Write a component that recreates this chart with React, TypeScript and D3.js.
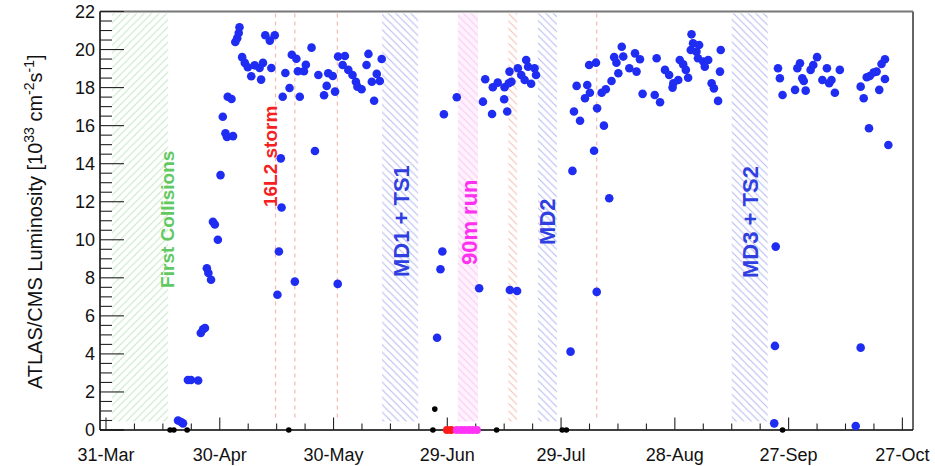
import React from "react";
import * as d3 from "d3";

// ---------- data (days since 31-Mar, peak luminosity in 1e33 cm^-2 s^-1) ----------
const xTickLabels = ["31-Mar", "30-Apr", "30-May", "29-Jun", "29-Jul", "28-Aug", "27-Sep", "27-Oct"];
const xTickDays = [0, 30, 60, 90, 120, 150, 180, 210];
const yTickValues = [0, 2, 4, 6, 8, 10, 12, 14, 16, 18, 20, 22];

const physicsFills: [number, number][] = [
  [19.0, 0.5], [19.8, 0.42], [20.3, 0.35], [21.6, 2.63], [22.4, 2.63], [24.3, 2.6], [25.0, 5.1], [25.6, 5.3],
  [26.1, 5.36], [26.6, 8.5], [27.0, 8.25], [27.7, 7.9], [28.2, 10.95], [28.7, 10.8], [29.5, 10.0], [30.2, 13.4],
  [30.8, 16.47], [31.5, 15.6], [31.9, 15.4], [32.1, 17.52], [33.1, 17.4], [33.5, 15.45], [34.1, 20.4], [34.6, 20.6],
  [35.0, 20.87], [35.2, 21.17], [35.9, 19.6], [36.6, 19.3], [37.4, 19.07], [38.3, 18.6], [39.2, 19.17], [40.5, 19.03],
  [40.9, 18.42], [41.4, 19.3], [42.0, 20.75], [43.2, 20.47], [43.6, 19.03], [44.5, 20.75],
  [45.2, 7.11], [45.6, 9.38], [46.1, 14.28], [46.3, 11.7], [46.6, 17.52], [47.3, 18.77], [48.4, 17.98], [49.0, 19.73],
  [49.8, 7.8], [50.2, 19.52], [50.6, 18.86], [51.1, 17.52], [52.2, 18.86], [52.7, 19.2], [54.2, 20.1], [55.1, 14.67],
  [56.0, 18.66], [57.5, 17.6], [58.2, 18.09], [58.6, 18.75], [59.8, 18.61], [60.4, 17.79], [61.1, 7.68], [61.2, 19.63],
  [62.4, 19.19], [63.0, 19.66], [63.9, 18.93], [65.0, 18.66], [65.9, 18.31], [66.3, 18.05], [67.4, 17.91], [68.7, 19.19],
  [69.2, 19.77], [70.1, 18.31], [70.7, 17.31], [71.4, 18.72], [72.2, 18.35], [72.7, 19.5],
  [87.3, 4.85], [88.2, 8.45], [88.7, 9.38], [89.1, 16.6], [92.5, 17.49], [98.4, 7.45], [99.4, 17.26], [100.0, 18.44],
  [101.8, 16.61], [102.0, 18.02], [103.3, 18.26], [105.0, 17.39], [105.1, 18.02], [105.8, 16.74], [106.2, 18.23],
  [106.4, 18.84], [106.5, 7.36], [106.9, 18.31], [108.4, 7.31], [108.6, 19.02], [109.5, 18.66], [110.4, 18.4],
  [110.8, 19.45], [111.3, 19.1], [112.1, 18.2], [113.0, 19.02], [113.4, 18.66],
  [122.5, 4.12], [123.0, 13.62], [123.4, 16.74], [124.1, 18.09], [125.0, 16.26], [126.3, 17.44], [126.9, 18.14],
  [127.4, 19.19], [127.6, 17.73], [128.7, 14.68], [129.2, 19.31], [129.4, 7.26], [129.5, 16.91], [130.7, 17.73],
  [131.3, 16.0], [131.8, 17.91], [132.7, 12.18], [133.3, 18.35], [134.0, 19.6], [134.6, 19.31], [135.1, 18.75],
  [136.0, 20.15], [136.4, 19.63], [138.0, 19.02], [139.5, 19.8], [139.9, 18.84], [140.8, 19.49], [141.5, 17.67],
  [144.7, 17.61], [145.2, 19.54], [146.1, 17.23], [147.4, 18.93], [148.5, 18.66], [149.4, 18.0], [149.6, 18.23],
  [150.9, 18.4], [151.3, 19.45], [152.2, 19.22], [152.9, 18.93], [153.5, 18.52], [154.2, 19.98], [154.4, 20.8],
  [154.8, 20.33], [155.7, 19.89], [156.1, 19.54], [156.4, 20.24], [157.5, 19.37], [157.9, 19.1], [158.8, 19.45],
  [159.7, 18.23], [160.3, 17.96], [161.4, 17.3], [161.9, 18.84], [162.1, 19.98],
  [176.2, 0.35], [176.4, 4.42], [176.6, 9.64], [177.2, 19.02], [177.7, 18.49], [178.4, 17.61], [181.7, 17.88],
  [182.3, 19.02], [183.0, 19.28], [183.6, 18.49], [184.0, 18.35], [184.5, 17.84], [185.8, 18.93], [186.5, 19.19],
  [187.5, 19.6], [188.9, 18.4], [190.1, 19.02], [190.7, 18.23], [191.3, 18.4], [192.2, 17.73], [193.5, 18.93],
  [197.7, 0.21], [199.0, 4.33], [199.0, 18.05], [199.8, 17.44], [200.6, 18.54], [201.2, 15.86], [201.4, 18.61],
  [202.4, 18.79], [203.2, 18.84], [203.9, 17.88], [204.5, 19.24], [205.4, 19.49], [205.4, 18.45], [206.3, 14.98],
];

const otherFills: [number, number][] = [
  [16.9, 0], [17.9, 0], [21.4, 0], [48.2, 0], [86.2, 0], [86.7, 1.1], [103.0, 0], [120.3, 0], [121.4, 0], [178.4, 0],
];
const redFills: [number, number][] = [[89.9, 0], [91.0, 0]];
const run90mFills: [number, number][] = [[92.5, 0], [93.6, 0], [94.6, 0], [95.7, 0], [96.7, 0], [97.8, 0]];

// periods [start day, end day, pattern id]
const bands: [number, number, string][] = [
  [1.6, 16.4, "hGreen"],
  [72.8, 82.3, "hBlue"],
  [92.8, 98.1, "hPink"],
  [106.1, 108.4, "hRed"],
  [113.9, 118.9, "hBlue"],
  [165.0, 174.5, "hBlue"],
];
const dashedDays = [44.7, 49.8, 61.0, 129.4];

// annotation: text, day (baseline), value (start), colour, font size
const annotations: [string, number, number, string, number][] = [
  ["First Collisions", 18.0, 7.47, "#62c862", 19],
  ["16L2 storm", 45.1, 11.72, "#f52020", 19],
  ["MD1 + TS1", 80.0, 8.04, "#3040e0", 22],
  ["90m run", 97.8, 8.67, "#ff30f0", 22],
  ["MD2", 118.4, 9.73, "#3040e0", 22],
  ["MD3 + TS2", 171.9, 7.99, "#3040e0", 22],
];

const FONT = "'Liberation Sans', Arial, Helvetica, sans-serif";

export default function App() {
  const left = 100, right = 913, top = 11.5, bottom = 430;
  const x = d3.scaleLinear().domain([-1.58, 212.8]).range([left, right]);
  const y = d3.scaleLinear().domain([0, 22]).range([bottom, top]);

  const xMinor = d3.range(0, 212.8, 7.5);
  const yMinor = d3.range(0, 22.01, 0.5);
  const bandTop = y(21.9), bandBot = y(0.45);
  const S = 7.5;

  const fwd = `M0,${S} L${S},0 M-1,1 L1,-1 M${S - 1},${S + 1} L${S + 1},${S - 1}`;
  const back = `M0,0 L${S},${S} M-1,${S - 1} L1,${S + 1} M${S - 1},-1 L${S + 1},1`;

  return (
    <svg width={935} height={466} style={{ position: "absolute", left: 0, top: 0, background: "#fff" }}
      fontFamily={FONT}>
      <defs>
        <pattern id="hGreen" patternUnits="userSpaceOnUse" width={S} height={S}>
          <path d={fwd} stroke="#c4e6c4" strokeWidth={1} />
        </pattern>
        <pattern id="hBlue" patternUnits="userSpaceOnUse" width={S} height={S}>
          <path d={back} stroke="#b8bcf2" strokeWidth={1.1} />
        </pattern>
        <pattern id="hPink" patternUnits="userSpaceOnUse" width={S} height={S}>
          <path d={back} stroke="#f9c8f6" strokeWidth={1.1} />
        </pattern>
        <pattern id="hRed" patternUnits="userSpaceOnUse" width={S} height={S}>
          <path d={back} stroke="#f5c0b4" strokeWidth={1.1} />
        </pattern>
      </defs>
      <rect x={0} y={0} width={935} height={466} fill="#fff" />

      {bands.filter(b => b[2] === "hPink").map(([a, b], i) => (
        <rect key={"pf" + i} x={x(a)} y={bandTop} width={x(b) - x(a)} height={bandBot - bandTop} fill="#fff2fd" />
      ))}
      {bands.map(([a, b, p], i) => (
        <rect key={"b" + i} x={x(a)} y={bandTop} width={x(b) - x(a)} height={bandBot - bandTop} fill={`url(#${p})`} />
      ))}
      {dashedDays.map((d, i) => (
        <line key={"d" + i} x1={x(d)} x2={x(d)} y1={bandTop} y2={bandBot} stroke="#f4b8b0" strokeWidth={1.2} strokeDasharray="4 4" />
      ))}

      {annotations.map(([t, d, v, c, fs], i) => (
        <text key={"a" + i} transform={`translate(${x(d)},${y(v)}) rotate(-90)`} fill={c} fontSize={fs}
          fontWeight="bold">{t}</text>
      ))}

      {/* frame */}
      <line x1={left} x2={right} y1={top} y2={top} stroke="#777" strokeWidth={2} />
      <line x1={right} x2={right} y1={top} y2={bottom} stroke="#666" strokeWidth={2} />

      {/* y axis */}
      <line x1={left} x2={left} y1={top} y2={bottom} stroke="#000" strokeWidth={1.5} />
      {yMinor.map((v, i) => (
        <line key={"ym" + i} x1={left} x2={left + (Math.abs(v / 2 - Math.round(v / 2)) < 1e-6 ? 24 : 12)} y1={y(v)} y2={y(v)}
          stroke="#222" strokeWidth={1.1} />
      ))}
      {yTickValues.map((v, i) => (
        <text key={"yl" + i} x={95} y={y(v)} dy="0.36em" textAnchor="end" fontSize={18} fill="#111">{v}</text>
      ))}

      {/* x axis */}
      <line x1={left} x2={right} y1={bottom} y2={bottom} stroke="#000" strokeWidth={1.5} />
      {xMinor.map((d, i) => (
        <line key={"xm" + i} x1={x(d)} x2={x(d)} y1={bottom} y2={bottom - (i % 4 === 0 ? 12.5 : 6.5)} stroke="#222" strokeWidth={1.1} />
      ))}
      {xTickDays.map((d, i) => (
        <text key={"xl" + i} x={x(d)} y={461} textAnchor="middle" fontSize={18} fill="#111">{xTickLabels[i]}</text>
      ))}

      {/* y title */}
      <text transform={`translate(42,${y(11) + 1}) rotate(-90)`} textAnchor="middle" fontSize={20} fill="#111">
        ATLAS/CMS Luminosity [10<tspan dy={-8} fontSize={14}>33</tspan>
        <tspan dy={8}> cm</tspan><tspan dy={-8} fontSize={14}>-2</tspan>
        <tspan dy={8}>s</tspan><tspan dy={-8} fontSize={14}>-1</tspan><tspan dy={8}>]</tspan>
      </text>

      {/* points */}
      {otherFills.map(([d, v], i) => (
        <circle key={"k" + i} cx={x(d)} cy={y(v)} r={2.8} fill="#000" />
      ))}
      {redFills.map(([d, v], i) => (
        <circle key={"r" + i} cx={x(d)} cy={y(v)} r={4} fill="#ff1a1a" />
      ))}
      {run90mFills.map(([d, v], i) => (
        <circle key={"m" + i} cx={x(d)} cy={y(v)} r={4} fill="#ff33f5" />
      ))}
      {physicsFills.map(([d, v], i) => (
        <circle key={"p" + i} cx={x(d)} cy={y(v)} r={4.3} fill="#1f2cf2" />
      ))}
    </svg>
  );
}
